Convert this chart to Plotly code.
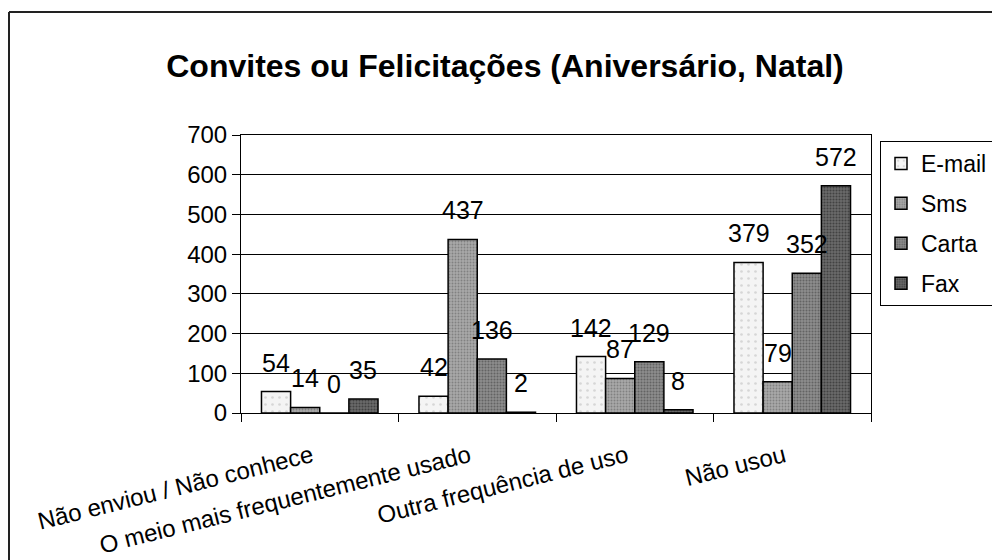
import plotly.graph_objects as go

# ---- data ----
categories = ["Não enviou / Não conhece", "O meio mais frequentemente usado",
              "Outra frequência de uso", "Não usou"]
series_names = ["E-mail", "Sms", "Carta", "Fax"]
email = [54, 42, 142, 379]
sms = [14, 437, 87, 79]
carta = [0, 136, 129, 352]
fax = [35, 2, 8, 572]
y_ticks = [0, 100, 200, 300, 400, 500, 600, 700]
title_text = "Convites ou Felicitações (Aniversário, Natal)"

# ---- style ----
OFF = 8                      # page body margin
W, H = 1000 - OFF, 560 - OFF
PL, PR, PT, PB = 241 - OFF, 871 - OFF, 135 - OFF, 413 - OFF   # plot area pixel edges (figure coords)
BARGAP = 0.26
FONT = "Liberation Sans, Arial, Helvetica, sans-serif"
styles = [
    dict(bg="#f4f4f4", fg="#b8b8b8", size=7, sol=0.12),
    dict(bg="#a9a9a9", fg="#5a5a5a", size=3, sol=0.35),
    dict(bg="#8c8c8c", fg="#3a3a3a", size=3, sol=0.35),
    dict(bg="#6a6a6a", fg="#1a1a1a", size=3, sol=0.4),
]

values = [email, sms, carta, fax]
fig = go.Figure()
for i, (name, vals) in enumerate(zip(series_names, values)):
    st = styles[i]
    fig.add_trace(go.Bar(
        name=name, x=categories, y=vals, legendgroup=name,
        marker=dict(color=st["bg"], line=dict(color="black", width=1.5),
                    pattern=dict(shape=".", fgcolor=st["fg"], bgcolor=st["bg"],
                                 size=st["size"], solidity=st["sol"], fillmode="overlay")),
    ))

# data labels placed above each bar via the axes
cat_px = (PR - PL) / len(categories)
bar_px = cat_px * (1 - BARGAP) / len(series_names)
annotations = []
for i, vals in enumerate(values):
    for c, v in zip(categories, vals):
        annotations.append(dict(
            x=c, y=v, xref="x", yref="y", text=str(v), showarrow=False,
            xshift=(i - 1.5) * bar_px, yanchor="bottom", yshift=13,
            font=dict(family=FONT, size=25, color="black")))

def px_x(p):
    return (p - PL) / (PR - PL)

def px_y(p):
    return (PB - p) / (PB - PT)

shapes = [
    dict(type="line", xref="paper", yref="paper", x0=px_x(1), x1=px_x(1),
         y0=px_y(H + 5), y1=px_y(4), line=dict(color="#222", width=2)),
    dict(type="line", xref="paper", yref="paper", x0=px_x(1), x1=px_x(W + 5),
         y0=px_y(4), y1=px_y(4), line=dict(color="#222", width=2)),
]

fig.update_layout(
    width=W, height=H,
    margin=dict(l=PL, r=W - PR, t=PT, b=H - PB, autoexpand=False),
    paper_bgcolor="white", plot_bgcolor="white",
    font=dict(family=FONT, size=23, color="black"),
    title=dict(text="<b>" + title_text + "</b>", x=(505 - OFF) / W, xanchor="center",
               y=1 - (66 - OFF) / H, yanchor="middle", xref="container", yref="container",
               font=dict(family=FONT, size=32, color="black")),
    barmode="group", bargap=BARGAP, bargroupgap=0,
    showlegend=True,
    legend=dict(x=px_x(880 - OFF), y=px_y(141 - OFF), xanchor="left", yanchor="top",
                bordercolor="black", borderwidth=1, bgcolor="white",
                font=dict(family=FONT, size=23, color="black"),
                tracegroupgap=7, traceorder="grouped"),
    xaxis=dict(showline=True, linecolor="black", linewidth=1, mirror=True,
               ticks="outside", ticklen=8, tickcolor="black", tickson="boundaries",
               tickangle=-14, ticklabelstandoff=19, ticklabelshift=-8,
               tickfont=dict(family=FONT, size=24, color="black"), showgrid=False),
    yaxis=dict(range=[0, 700], tickvals=y_ticks, showline=True, linecolor="black",
               linewidth=1, mirror=True, ticks="outside", ticklen=8, tickcolor="black",
               showgrid=True, gridcolor="black", gridwidth=1, zeroline=False,
               tickfont=dict(family=FONT, size=24, color="black")),
    annotations=annotations,
    shapes=shapes,
)

fig.write_html("out.html")
